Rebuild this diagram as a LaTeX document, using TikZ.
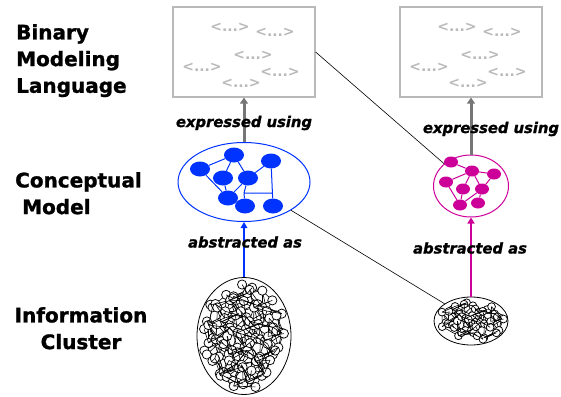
\documentclass[tikz,border=0pt]{standalone}
\usepackage{fontspec}
\setmainfont{DejaVu Sans}
\newfontfamily\heavyfont{DejaVu Sans}[BoldFeatures={FakeBold=1.2}, BoldItalicFeatures={FakeBold=1.2}]
\usetikzlibrary{shapes.geometric,arrows.meta,backgrounds}
\definecolor{boxgray}{RGB}{185,185,185}
\definecolor{arrgray}{RGB}{118,118,118}
\definecolor{cmblue}{RGB}{0,51,255}
\definecolor{cmmag}{RGB}{204,0,153}
\makeatletter
% test whether a named coordinate exists
\newcommand\ifptdef[1]{\@ifundefined{pgf@sh@ns@#1}{\@secondoftwo}{\@firstoftwo}}
\makeatother
% links from one grid point to some of its neighbours
% #1 prefix, #2 hash seed, #3 threshold
\newcommand\netlinks[3]{%
  \foreach \i in {0,...,20}{\foreach \j in {0,...,20}{%
    \ifptdef{#1-\i-\j}{%
      \foreach \di/\dj/\k in {1/0/1,0/1/2,1/1/3,-1/1/4,2/1/5,1/2/6,-2/1/7,2/0/8,0/2/9}{%
        \pgfmathtruncatemacro\ni{\i+\di}%
        \pgfmathtruncatemacro\nj{\j+\dj}%
        \pgfmathtruncatemacro\keep{sin(\i*97+\j*59+\k*131+#2)>#3 ? 1 : 0}%
        \ifnum\keep=1 \ifptdef{#1-\ni-\nj}{\draw[line width=0.6pt] (#1-\i-\j) -- (#1-\ni-\nj);}{}\fi
      }}{}%
  }}%
}
% tangled cluster of small circles inside an ellipse
% #1 prefix, #2 cx, #3 cy, #4 half width, #5 half height, #6 grid step, #7 dot radius
\newcommand\netfill[7]{%
  \foreach \i in {0,...,20}{\foreach \j in {0,...,20}{%
    \pgfmathsetmacro\px{(\i-10)*#6+0.4*#6*sin(\i*137+\j*251)}%
    \pgfmathsetmacro\py{(\j-10)*#6+0.4*#6*sin(\i*71+\j*173+40)}%
    \pgfmathtruncatemacro\ins{((\px)/(#4-#7-0.3))^2+((\py)/(#5-#7-0.3))^2<=1 ? 1 : 0}%
    \pgfmathsetmacro\ax{#2+\px}%
    \pgfmathsetmacro\ay{#3+\py}%
    \ifnum\ins=1 \coordinate (#1-\i-\j) at (\ax,\ay);\fi
  }}%
  \netlinks{#1}{0}{0.2}%
  \foreach \i in {0,...,20}{\foreach \j in {0,...,20}{%
    \ifptdef{#1-\i-\j}{\filldraw[fill=white,draw=black,line width=0.75pt] (#1-\i-\j) circle[radius=#7];}{}%
  }}%
  \netlinks{#1}{77}{0.85}%
}
\begin{document}
\begin{tikzpicture}[x=1pt,y=-1pt,
  heading/.style={font=\heavyfont\bfseries\fontsize{20}{26.7}\selectfont, inner sep=0pt},
  relation/.style={font=\heavyfont\bfseries\itshape\fontsize{14.75}{16}\selectfont, inner sep=0pt},
  langbox/.style={draw=boxgray, line width=1.2pt, minimum width=142pt, minimum height=90pt, inner sep=0pt},
  tag/.style={text=boxgray, font=\bfseries\fontsize{14}{15}\selectfont, inner sep=0pt},
  bdot/.style={ellipse, fill=cmblue, minimum width=20pt, minimum height=15pt, inner sep=0pt},
  mdot/.style={ellipse, fill=cmmag, minimum width=14pt, minimum height=11pt, inner sep=0pt},
  modelring/.style={ellipse, line width=1pt, inner sep=0pt},
  clusterring/.style={ellipse, draw=black, line width=0.8pt, inner sep=0pt},
  garrow/.style={draw=arrgray, line width=3pt, -{Triangle[width=8pt,length=6pt]}},
  barrow/.style={draw=cmblue, line width=2pt, -{Triangle[width=6.5pt,length=6pt]}},
  marrow/.style={draw=cmmag, line width=2.5pt, -{Triangle[width=7pt,length=6pt]}},
  link/.style={draw=black, line width=0.6pt}]
\useasboundingbox (0,0) rectangle (561,396);

% row headings
\node[heading, align=left, anchor=north west] (hb) at (16,24) {Binary\\Modeling\\Language};
\node[heading, align=left, anchor=north west] (hc) at (15,172) {Conceptual\\\hspace*{7pt}Model};
\node[heading, align=center, anchor=north] (hi) at (81,307) {Information\\Cluster};

% language boxes with tag placeholders
\node[langbox] (lbox) at (244,52) {};
\node[langbox] (rbox) at (471,52) {};
\foreach \b in {lbox,rbox}{
  \foreach \dx/\dy/\n in {-14/-25/1, 31/-20/2, 9/3/3, -42/15/4, 36/20/5, -3/31/6}{
    \node[tag] (\b-t\n) at ([shift={(\dx,\dy)}]\b.center) {<...>};
  }
}

% conceptual models
\node[modelring, draw=cmblue, minimum width=132pt, minimum height=79pt] (cm1) at (244,182) {};
\node[modelring, draw=cmmag, minimum width=75pt, minimum height=62pt] (cm2) at (471,186) {};

\node[bdot] (b1) at (234,155) {};
\node[bdot] (b2) at (200,169) {};
\node[bdot] (b3) at (223,178) {};
\node[bdot] (b4) at (248,178) {};
\node[bdot] (b5) at (271,161) {};
\node[bdot] (b6) at (228,198) {};
\node[bdot] (b7) at (245,206) {};
\node[bdot] (b8) at (273,206) {};
\coordinate (j1) at (244,193);
\coordinate (j2) at (272,193);

\node[mdot] (m1) at (451,162) {};
\node[mdot] (m2) at (472,171) {};
\node[mdot] (m3) at (494,174) {};
\node[mdot] (m4) at (446,182) {};
\node[mdot] (m5) at (463,189) {};
\node[mdot] (m6) at (482,189) {};
\node[mdot] (m7) at (460,205) {};
\node[mdot] (m8) at (478,203) {};

\begin{scope}[on background layer]
  \draw[cmblue, line width=1pt] (b2) -- (b1) -- (b3) (b1) -- (b4) -- (b5) -- (b8)
        (b2) -- (b6) -- (b3) (b4) -- (b6) (b4) -- (j1) -- (b7) (j1) -- (j2);
  \draw[cmmag, line width=1pt] (m1) -- (m2) -- (m3) -- (m6) (m2) -- (m4) -- (m7)
        (m2) -- (m5) -- (m7) (m2) -- (m6) -- (m7) (m6) -- (m8);
\end{scope}

% information clusters
\node[clusterring, minimum width=94pt, minimum height=117pt] (ic1) at (244,336) {};
\node[clusterring, minimum width=74pt, minimum height=48pt] (ic2) at (471,321) {};
\netfill{L}{244}{336}{47}{58.5}{8.6}{4.6}
\netfill{R}{471}{321}{37}{24}{7}{3.9}

% cross links
\draw[link] (lbox.east) -- (cm2.north west);
\draw[link] (cm1.south east) -- (ic2.north west);

% arrows
\draw[garrow] (cm1.north) -- (lbox.south);
\draw[garrow] (cm2.north) -- (rbox.south);
\draw[barrow] (ic1.north) -- (cm1.south);
\draw[marrow] (ic2.north) -- (cm2.south);

% relation labels
\node[relation] (ex1) at (244,123) {expressed using};
\node[relation] (ex2) at (491,129) {expressed using};
\node[relation] (ab1) at (245,242) {abstracted as};
\node[relation] (ab2) at (470,248) {abstracted as};
\end{tikzpicture}
\end{document}
